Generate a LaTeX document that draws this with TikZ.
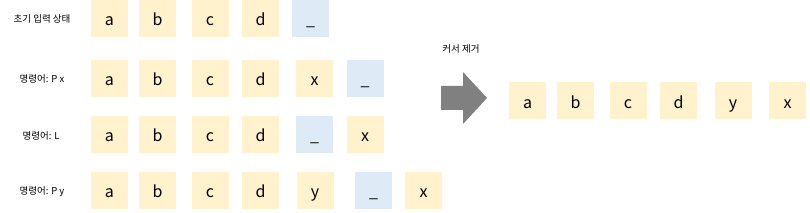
\documentclass[tikz,border=0pt]{standalone}
\usepackage{fontspec}
\setmainfont{Noto Sans CJK KR}
\definecolor{cellyellow}{HTML}{FFF2CC}
\definecolor{cursorblue}{HTML}{DEEBF7}
\definecolor{arrowgray}{HTML}{808080}
\begin{document}
\begin{tikzpicture}[x=1pt, y=-1pt,
    cell/.style={fill=cellyellow, minimum width=37pt, minimum height=37pt, inner sep=0pt,
        text height=15pt, text depth=0pt, font=\fontsize{16}{16}\selectfont},
    cursor/.style={cell, fill=cursorblue},
    rowlabel/.style={font=\fontsize{9.5}{11}\selectfont}]
    \useasboundingbox (0,0) rectangle (810,213);

    % Row labels
    \node[rowlabel] (lab1) at (42,19) {초기 입력 상태};
    \node[rowlabel] (lab2) at (42,79) {명령어: P x};
    \node[rowlabel] (lab3) at (41,136) {명령어: L};
    \node[rowlabel] (lab4) at (42,192) {명령어: P y};

    % Common prefix a b c d in every row
    \foreach \r/\y in {1/18.5, 2/78.5, 3/134.5, 4/190.5}
        \foreach \ch/\x in {a/109.5, b/157.5, c/210, d/260.5}
            \node[cell] (r\r\ch) at (\x,\y) {\ch};

    % Row 1: cursor at the end
    \node[cursor] (r1cur) at (310.5,18.5) {\_};

    % Row 2: insert x
    \node[cell] (r2x) at (314.5,78.5) {x};
    \node[cursor] (r2cur) at (365,78.5) {\_};

    % Row 3: cursor moved left
    \node[cursor] (r3cur) at (314.5,134.5) {\_};
    \node[cell] (r3x) at (365,134.5) {x};

    % Row 4: insert y
    \node[cell] (r4y) at (315,190.5) {y};
    \node[cursor] (r4cur) at (373.5,190.5) {\_};
    \node[cell] (r4x) at (423.5,190.5) {x};

    % Block arrow
    \node[rowlabel] (rmlab) at (461,49) {커서 제거};
    \fill[arrowgray] (441,86) -- (463,86) -- (463,72) -- (487,98)
        -- (463,124) -- (463,110) -- (441,110) -- cycle;

    % Result without the cursor
    \foreach \ch/\x [count=\i] in {a/527.5, b/575.5, c/628, d/678.5, y/733, x/787.5}
        \node[cell] (out\i) at (\x,101) {\ch};
\end{tikzpicture}
\end{document}
